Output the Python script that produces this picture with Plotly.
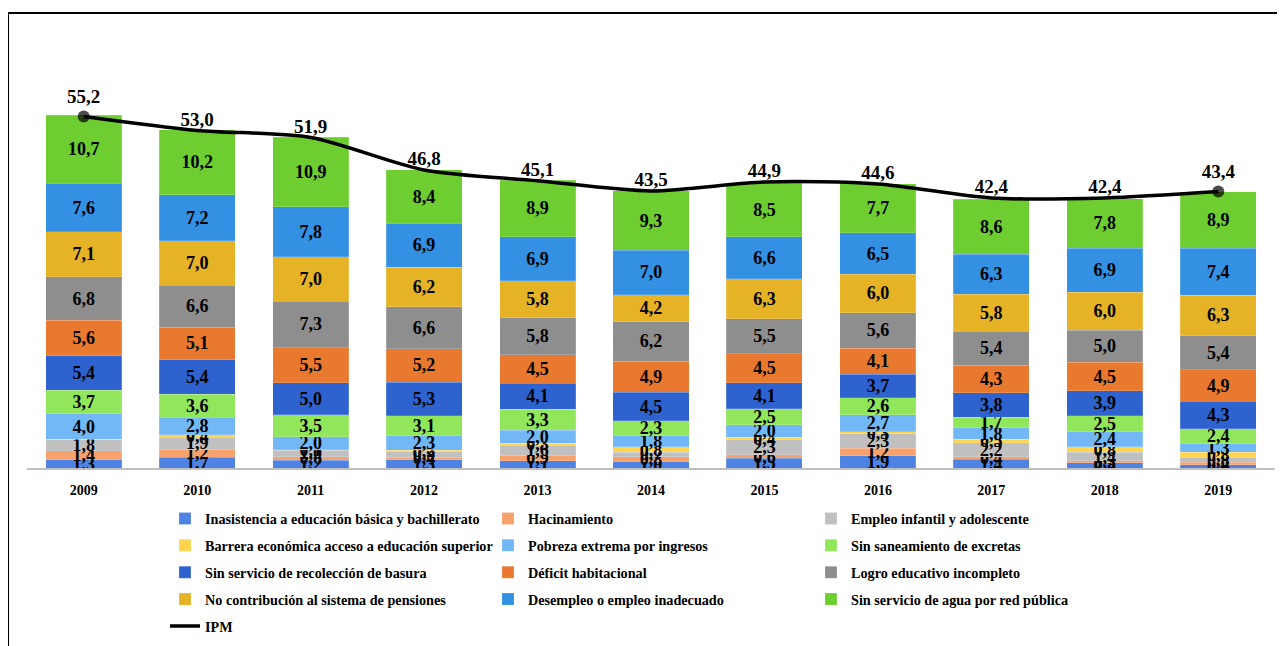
import plotly.graph_objects as go

years = ["2009", "2010", "2011", "2012", "2013", "2014", "2015", "2016", "2017", "2018", "2019"]

inasistencia = [1.3, 1.7, 1.2, 1.3, 1.1, 1.0, 1.5, 1.9, 1.4, 0.8, 0.5]
hacinamiento = [1.4, 1.2, 0.6, 0.4, 0.9, 0.8, 0.6, 1.2, 0.4, 0.3, 0.4]
empleo_infantil = [1.8, 1.9, 1.0, 0.9, 1.6, 0.7, 2.3, 2.3, 2.2, 1.4, 0.8]
barrera = [0.0, 0.4, 0.1, 0.2, 0.3, 0.8, 0.4, 0.3, 0.5, 0.8, 0.8]
pobreza_extrema = [4.0, 2.8, 2.0, 2.3, 2.0, 1.8, 2.0, 2.7, 1.8, 2.4, 1.3]
saneamiento = [3.7, 3.6, 3.5, 3.1, 3.3, 2.3, 2.5, 2.6, 1.7, 2.5, 2.4]
basura = [5.4, 5.4, 5.0, 5.3, 4.1, 4.5, 4.1, 3.7, 3.8, 3.9, 4.3]
deficit = [5.6, 5.1, 5.5, 5.2, 4.5, 4.9, 4.5, 4.1, 4.3, 4.5, 4.9]
logro = [6.8, 6.6, 7.3, 6.6, 5.8, 6.2, 5.5, 5.6, 5.4, 5.0, 5.4]
pensiones = [7.1, 7.0, 7.0, 6.2, 5.8, 4.2, 6.3, 6.0, 5.8, 6.0, 6.3]
desempleo = [7.6, 7.2, 7.8, 6.9, 6.9, 7.0, 6.6, 6.5, 6.3, 6.9, 7.4]
agua = [10.7, 10.2, 10.9, 8.4, 8.9, 9.3, 8.5, 7.7, 8.6, 7.8, 8.9]
ipm = [55.2, 53.0, 51.9, 46.8, 45.1, 43.5, 44.9, 44.6, 42.4, 42.4, 43.4]

series = [
    ("Inasistencia a educación básica y bachillerato", inasistencia, "#4F83E3"),
    ("Hacinamiento", hacinamiento, "#F7A26C"),
    ("Empleo infantil y adolescente", empleo_infantil, "#C0C0C0"),
    ("Barrera económica acceso a educación superior", barrera, "#FFD54F"),
    ("Pobreza extrema por ingresos", pobreza_extrema, "#72B8F6"),
    ("Sin saneamiento de excretas", saneamiento, "#92E65C"),
    ("Sin servicio de recolección de basura", basura, "#2E63CF"),
    ("Déficit habitacional", deficit, "#E8792E"),
    ("Logro educativo incompleto", logro, "#8E8E8E"),
    ("No contribución al sistema de pensiones", pensiones, "#E6B327"),
    ("Desempleo o empleo inadecuado", desempleo, "#3390E3"),
    ("Sin servicio de agua por red pública", agua, "#6ECD30"),
]

FONT = "Liberation Serif, DejaVu Serif, serif"
legend_ids = ["legend", "legend2", "legend3", "legend4", "legend5"]

fig = go.Figure()
for i, (name, vals, color) in enumerate(series):
    fig.add_trace(go.Bar(
        x=years, y=vals, name=name, legend=legend_ids[i // 3],
        marker=dict(color=color, line=dict(color="rgba(255,255,255,0.35)", width=0.5)),
        texttemplate="%{y:.1f}", textposition="inside", insidetextanchor="middle",
        textangle=0, constraintext="none",
        textfont=dict(family=FONT, size=18, color="black", weight="bold"),
        hoverinfo="skip",
    ))

marker_sizes = [12] + [0] * (len(years) - 2) + [12]
fig.add_trace(go.Scatter(
    x=years, y=ipm, name="IPM", mode="lines+markers+text", legend="legend5",
    line=dict(color="black", width=3.5, shape="spline", smoothing=0.8),
    marker=dict(color="black", size=marker_sizes, line=dict(width=0)),
    text=[f"{v:.1f}".replace(".", ",") for v in ipm],
    textposition="top center",
    textfont=dict(family=FONT, size=19, color="black", weight="bold"),
    hoverinfo="skip",
))

# plot area in screen px: x 27..1275, y 40..470 (page has 8px body margin)
legend_common = dict(orientation="h", xanchor="left", yanchor="middle",
                     traceorder="normal", entrywidth=278, entrywidthmode="pixels",
                     font=dict(family=FONT, size=14.2, color="black", weight="bold"),
                     bgcolor="rgba(0,0,0,0)")
row_y = [521, 548, 575, 602, 629]
legend_layout = {}
for lid, ry in zip(legend_ids, row_y):
    legend_layout[lid] = dict(legend_common, x=(165 - 27) / 1248, y=(470 - ry) / 430)

fig.update_layout(
    width=1285, height=646,
    barmode="stack", bargap=0.33,
    separators=",.",
    paper_bgcolor="white", plot_bgcolor="white",
    margin=dict(l=19, r=18, t=32, b=184),
    font=dict(family=FONT, color="black"),
    uniformtext=dict(mode="show", minsize=18),
    xaxis=dict(showline=True, linecolor="#BFBFBF", linewidth=1.5, ticks="",
               ticklabelstandoff=8,
               tickfont=dict(family=FONT, size=14, color="black", weight="bold"),
               range=[-0.5, 10.5]),
    yaxis=dict(visible=False, range=[0, 67.2]),
    showlegend=True,
    **legend_layout,
)

fig.add_shape(type="rect", xref="paper", yref="paper",
              x0=-0.0152, x1=1.0036, y0=-0.5, y1=1.063,
              line=dict(color="black", width=2), fillcolor="rgba(0,0,0,0)", layer="above")

fig.write_html("out.html")
